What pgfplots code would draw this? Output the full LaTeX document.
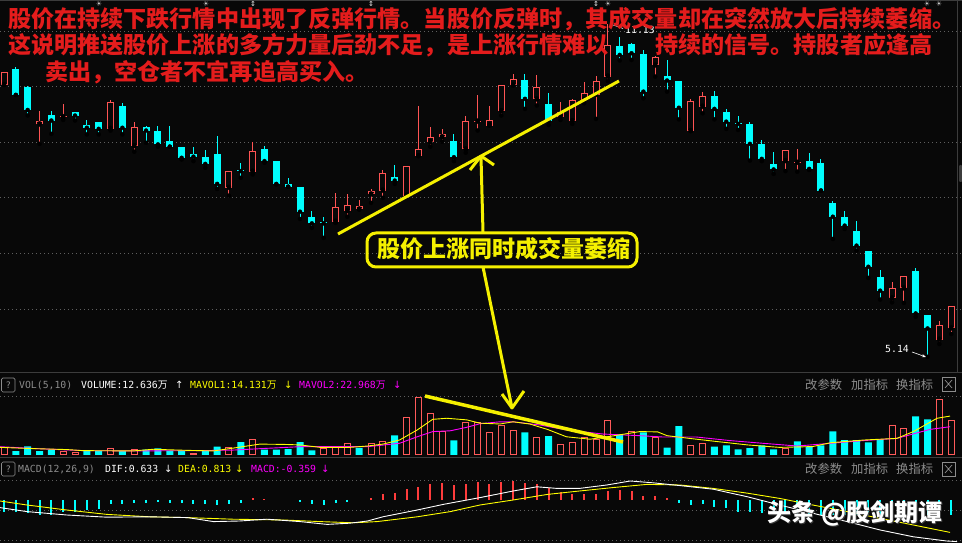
\documentclass[border=0pt]{standalone}
\usepackage{fontspec}
\usepackage{pgfplots}
\usepackage{pgfplotstable}
\pgfplotsset{compat=1.18}
\usetikzlibrary{arrows.meta}
\newfontfamily\cjk{Noto Sans CJK SC}
\newfontfamily\mono{DejaVu Sans Mono}
\newfontfamily\dv{DejaVu Sans}
\definecolor{bg}{RGB}{8,8,8}
\definecolor{kred}{RGB}{255,84,84}
\definecolor{vred}{RGB}{255,90,90}
\definecolor{mred}{RGB}{255,60,60}
\definecolor{kcyan}{RGB}{0,255,255}
\definecolor{ann}{RGB}{245,240,0}
\definecolor{txtred}{RGB}{228,28,28}
\definecolor{gridc}{RGB}{95,95,95}
\definecolor{bord}{RGB}{60,60,60}
\definecolor{mag}{RGB}{255,0,255}
\definecolor{ylw}{RGB}{255,255,0}
\definecolor{hgray}{RGB}{140,140,140}

% up (red, hollow) candles: index open high low close
\pgfplotstableread{
i o h l c
0 10.03 10.26 10.03 10.26
3 9.32 9.56 8.97 9.39
5 9.45 9.69 9.40 9.47
9 9.24 9.76 9.21 9.72
11 8.93 9.36 8.83 9.27
19 8.18 8.49 8.04 8.49
21 8.47 9.00 8.42 8.84
28 7.57 8.09 7.55 7.83
29 7.76 8.07 7.66 7.87
30 7.79 7.96 7.79 7.85
31 8.06 8.16 7.91 8.12
32 8.13 8.50 8.00 8.44
34 8.04 8.58 8.04 8.58
35 8.75 9.65 8.75 8.88
36 9.00 9.28 8.92 9.09
37 9.09 9.24 9.01 9.14
39 8.87 9.48 8.81 9.38
40 9.37 9.84 9.21 9.39
41 9.30 9.65 9.30 9.40
42 9.56 10.02 9.48 10.02
43 10.02 10.23 10.02 10.13
45 9.77 10.21 9.66 9.99
47 9.46 9.73 9.40 9.54
48 9.38 9.77 9.33 9.76
49 9.76 10.09 9.70 9.88
50 9.85 10.19 9.42 10.10
51 10.18 11.13 10.10 10.75
55 10.38 10.55 10.18 10.54
58 9.20 9.77 9.20 9.74
59 9.64 9.90 9.52 9.83
66 8.66 8.86 8.48 8.86
67 8.63 8.88 8.47 8.65
75 6.19 6.49 6.12 6.38
76 6.37 6.60 6.11 6.59
79 5.45 5.79 5.37 5.71
80 5.65 6.05 5.55 6.05
}\upK

% down (cyan, filled) candles
\pgfplotstableread{
i o h l c
1 10.32 10.35 9.85 9.85
2 9.99 10.01 9.48 9.58
4 9.49 9.56 9.15 9.39
6 9.54 9.55 9.39 9.48
7 9.31 9.40 9.14 9.26
8 9.36 9.37 9.14 9.24
10 9.65 9.70 9.14 9.26
12 9.27 9.29 8.99 9.21
13 9.20 9.29 8.92 8.96
14 9.02 9.29 8.92 8.92
15 8.91 8.91 8.69 8.72
16 8.79 8.91 8.66 8.74
17 8.73 8.86 8.54 8.61
18 8.79 9.11 8.16 8.25
20 8.50 8.63 8.36 8.48
22 8.88 8.93 8.63 8.66
23 8.66 8.66 8.24 8.25
24 8.25 8.36 8.20 8.20
25 8.19 8.19 7.62 7.75
26 7.65 7.76 7.46 7.54
27 7.56 7.65 7.28 7.54
33 8.37 8.59 8.25 8.31
38 9.02 9.15 8.66 8.73
44 10.12 10.23 9.60 9.78
46 9.69 9.88 9.31 9.38
52 10.73 10.90 10.47 10.57
53 10.76 10.78 10.48 10.60
54 10.59 10.66 9.79 9.91
56 10.19 10.48 9.91 10.11
57 10.10 10.10 9.41 9.62
60 9.83 9.92 9.41 9.60
61 9.54 9.59 9.24 9.37
62 9.35 9.48 9.22 9.33
63 9.33 9.37 8.67 8.97
64 8.97 9.04 8.66 8.70
65 8.61 8.82 8.43 8.51
68 8.66 8.80 8.50 8.52
69 8.62 8.69 8.13 8.13
70 7.91 7.94 7.26 7.66
71 7.65 7.76 7.44 7.50
72 7.40 7.58 7.05 7.14
73 7.04 7.04 6.56 6.76
74 6.58 6.70 6.17 6.33
77 6.68 6.74 5.86 5.92
78 5.89 5.89 5.14 5.65
}\dnK

\pgfplotsset{
  panel/.style={scale only axis, anchor=south west, width=962pt,
    xmin=-0.338, xmax=80.91, axis line style={draw=none}, xtick=\empty,
    yticklabels={}, major tick style={draw=none}, ymajorgrids,
    grid style={gridc, line width=0.9pt, dash pattern=on 1pt off 3pt}},
  ebar/.style 2 args={only marks, mark=none, error bars/.cd, y dir=plus, y explicit,
    error mark=none, error bar style={draw=#1, line width=#2}}
}

\begin{document}
\begin{tikzpicture}
\path[use as bounding box] (0pt,0pt) rectangle (962pt,543pt);
\fill[bg] (0pt,0pt) rectangle (962pt,543pt);

% ---------------- price panel ----------------
\begin{axis}[panel, at={(0pt,171pt)}, height=372pt, ymin=4.867, ymax=11.5576, ytick={6,7,8,9,10,11}]
\addplot[ebar={kred}{1pt}] table[x=i, y=l, y error expr=\thisrow{h}-\thisrow{l}] {\upK};
\addplot[ebar={kcyan}{1pt}] table[x=i, y=l, y error expr=\thisrow{h}-\thisrow{l}] {\dnK};
\addplot[ebar={kred}{7pt}] table[x=i, y=o, y error expr=\thisrow{c}-\thisrow{o}] {\upK};
\addplot[ebar={bg}{5pt}] table[x=i, y expr=\thisrow{o}+0.018, y error expr={max(\thisrow{c}-\thisrow{o}-0.036,0)}] {\upK};
\addplot[ebar={kcyan}{7pt}] table[x=i, y=c, y error expr=\thisrow{o}-\thisrow{c}] {\dnK};
\end{axis}

% ---------------- volume panel ----------------
\begin{axis}[panel, at={(0pt,88pt)}, height=83pt, ymin=0, ymax=30.51, ytick={21.7}]
\addplot[ybar, bar shift=0pt, bar width=7pt, fill=kcyan, draw=none] coordinates {
(1,1.4)(2,3.2)(3,1.4)(4,2.0)(7,1.4)(8,1.4)(10,1.4)(12,2.0)(13,2.4)(14,1.6)(15,1.6)(17,1.4)(18,3.1)
(20,4.7)(22,2.0)(23,2.0)(24,2.2)(25,4.7)(26,1.7)(30,2.6)(33,7.2)(38,5.4)(44,8.3)(46,6.9)(52,7.6)
(54,8.3)(56,2.7)(57,10.6)(60,3.1)(61,3.5)(62,2.1)(63,2.5)(64,3.5)(65,2.1)(67,5.0)(68,3.1)(69,3.5)
(70,8.7)(71,5.5)(72,5.5)(73,4.6)(74,5.7)(77,14.2)(78,13.1)};
\addplot[ybar, bar shift=0pt, bar width=6pt, fill=bg, draw=vred, line width=1pt] coordinates {
(0,2.7)(5,1.4)(6,1.0)(9,2.4)(11,2.0)(16,0.6)(19,2.9)(21,5.7)(27,2.4)(28,2.6)(29,4.2)(31,4.2)(32,4.9)
(34,13.8)(35,21.3)(36,15.4)(37,8.5)(39,11.9)(40,12.1)(41,8.3)(42,10.8)(43,9.1)(45,6.4)(47,3.8)
(48,4.7)(49,6.4)(50,5.7)(51,12.8)(53,8.7)(55,6.4)(58,3.5)(59,4.2)(66,2.5)(75,10.8)(76,9.7)(79,20.4)(80,12.6)};
\addplot[mag, line width=0.9pt, mark=none] coordinates {
(-0.34,3.05)(2.45,2.4)(6.7,1.6)(10.9,1.5)(16.6,1.6)(19.3,1.8)(22.2,2.45)(25,3.05)(27.8,3.05)(30.7,3.05)
(33.4,4.3)(34.9,6.7)(36.2,8.6)(37.7,8.9)(39.1,10.2)(40.2,11.5)(41.9,12.2)(43.0,12.2)(45.3,11.0)(47.5,9.2)
(50.6,7.7)(53.7,7.1)(55.7,6.6)(58.5,6.6)(61.3,5.3)(64.1,4.3)(67.0,3.3)(69.8,4.3)(72.6,5.3)(75.4,6.1)
(78.2,9.4)(79.9,10.4)};
\addplot[ylw, line width=0.9pt, mark=none] coordinates {
(-0.34,2.8)(2.45,2.35)(5.3,2.0)(6.7,1.6)(10.9,1.5)(12.6,2.1)(15.5,1.7)(17.7,1.5)(19.3,2.5)(21.6,4.0)
(23.6,3.9)(25,3.7)(26.7,2.8)(29.2,2.8)(30.7,3.3)(32.0,4.0)(33.4,5.5)(34.9,9.2)(36.2,13.1)(37.4,13.5)
(39.1,12.9)(40.2,11.7)(41.9,11.4)(43.0,12.2)(44.4,11.4)(45.9,9.4)(47.5,6.7)(49.5,5.8)(51.4,7.0)
(53.7,8.6)(55.2,8.5)(56.0,7.1)(57.9,6.1)(59.9,5.1)(62.8,3.7)(65.5,2.8)(68.3,3.1)(69.8,4.5)(72.6,5.5)
(75.4,6.1)(76.8,8.6)(78.8,13.5)(79.9,14.3)};
\end{axis}

% ---------------- MACD panel ----------------
\begin{axis}[panel, at={(0pt,0pt)}, height=86pt, ymin=-1.075, ymax=1.075, ytick={-1,-0.25,0.4925}]
\addplot[ycomb, draw=kcyan, line width=2pt, mark=none] coordinates {
(0,-0.29)(1,-0.31)(2,-0.33)(3,-0.375)(4,-0.375)(5,-0.31)(6,-0.29)(7,-0.25)(8,-0.225)(9,-0.11)(10,-0.11)
(11,-0.083)(12,-0.067)(13,-0.058)(14,-0.083)(15,-0.083)(16,-0.11)(17,-0.11)(18,-0.125)(19,-0.11)(20,-0.067)
(25,-0.058)(26,-0.11)(27,-0.125)(28,-0.083)(29,-0.04)(57,-0.083)(58,-0.125)(59,-0.11)(60,-0.167)
(61,-0.21)(62,-0.29)(63,-0.3)(64,-0.33)(65,-0.35)(66,-0.37)(67,-0.37)(68,-0.38)(69,-0.38)
(70,-0.38)(71,-0.38)(72,-0.38)(73,-0.38)(74,-0.38)(75,-0.36)(76,-0.35)(77,-0.37)(78,-0.38)(79,-0.38)(80,-0.38)};
\addplot[ycomb, draw=mred, line width=2pt, mark=none] coordinates {
(21,0.04)(22,0.017)(31,0.058)(32,0.14)(33,0.18)(34,0.27)(35,0.32)(36,0.40)(37,0.42)(38,0.375)(39,0.40)
(40,0.46)(41,0.39)(42,0.46)(43,0.48)(44,0.42)(45,0.39)(46,0.29)(47,0.19)(48,0.14)(49,0.14)(50,0.14)
(51,0.23)(52,0.25)(53,0.225)(54,0.11)(55,0.11)(56,0.04)};
\addplot[ylw, line width=0.9pt, mark=none] coordinates {
(-0.34,-0.025)(1.94,-0.125)(5.3,-0.25)(8.7,-0.36)(12.3,-0.42)(15.5,-0.44)(19.3,-0.48)(23.6,-0.5)
(26.7,-0.54)(29.5,-0.57)(31.5,-0.54)(34.9,-0.42)(37.7,-0.29)(40.2,-0.125)(43.0,0)(45.9,0.14)
(48.6,0.225)(51.4,0.31)(54.3,0.39)(57.1,0.375)(59.9,0.29)(62.8,0.17)(65.5,0.04)(68.3,-0.125)
(71.2,-0.29)(74.0,-0.46)(76.8,-0.625)(79.9,-0.81)};
\addplot[white, line width=0.9pt, mark=none] coordinates {
(-0.34,-0.19)(1.94,-0.29)(5.3,-0.375)(8.7,-0.43)(12.3,-0.42)(15.5,-0.44)(17.7,-0.54)(19.9,-0.525)
(22.2,-0.48)(25.0,-0.54)(27.3,-0.61)(29.2,-0.58)(30.7,-0.525)(32.0,-0.42)(34.9,-0.25)(37.1,-0.11)
(40.2,0.06)(43.0,0.225)(45.0,0.33)(46.7,0.29)(48.6,0.29)(50.9,0.375)(52.9,0.475)(54.8,0.43)
(57.1,0.36)(59.9,0.27)(62.8,0.08)(65.5,-0.125)(68.3,-0.33)(71.2,-0.54)(74.0,-0.75)(76.8,-0.92)
(79.6,-1.025)(80.5,-1.04)};
\end{axis}

\begin{scope}[x=1pt,y=1pt]
% borders
\draw[bord, line width=1pt] (0,542) -- (962,542);
\draw[bord, line width=1pt] (957,543) -- (957,171);
\draw[bord, line width=1pt] (0,170.5) -- (962,170.5);
\draw[bord, line width=1pt] (0,85.5) -- (962,85.5);
\fill[bord, rounded corners=1pt] (959,361) rectangle (962,378);

% headers
\foreach \yy/\bl in {151/154.7, 67/70.7}{
  \draw[hgray, line width=0.7pt, rounded corners=1.5pt] (1.5,\yy) rectangle (15,\yy+14);
  \node[anchor=base, inner sep=0, text=hgray, font=\mono\fontsize{9}{10}\selectfont] at (8.3,\bl) {?};
}
\node[anchor=base west, inner sep=0, text=hgray, font=\mono\fontsize{9.8}{11}\selectfont] at (19,154.7) {VOL(5,10)};
\node[anchor=base west, inner sep=0, text=white, font=\mono\fontsize{9.8}{11}\selectfont] at (81,154.7) {VOLUME:12.636{\cjk 万}};
\node[anchor=base west, inner sep=0, text=white, font=\dv\fontsize{10}{11}\selectfont] at (175,154.7) {↑};
\node[anchor=base west, inner sep=0, text=ylw, font=\mono\fontsize{9.8}{11}\selectfont] at (190,154.7) {MAVOL1:14.131{\cjk 万}};
\node[anchor=base west, inner sep=0, text=ylw, font=\dv\fontsize{10}{11}\selectfont] at (284,154.7) {↓};
\node[anchor=base west, inner sep=0, text=mag, font=\mono\fontsize{9.8}{11}\selectfont] at (299,154.7) {MAVOL2:22.968{\cjk 万}};
\node[anchor=base west, inner sep=0, text=mag, font=\dv\fontsize{10}{11}\selectfont] at (393,154.7) {↓};

\node[anchor=base west, inner sep=0, text=hgray, font=\mono\fontsize{9.8}{11}\selectfont] at (18,70.7) {MACD(12,26,9)};
\node[anchor=base west, inner sep=0, text=white, font=\mono\fontsize{9.8}{11}\selectfont] at (105,70.7) {DIF:0.633};
\node[anchor=base west, inner sep=0, text=white, font=\dv\fontsize{10}{11}\selectfont] at (164,70.7) {↓};
\node[anchor=base west, inner sep=0, text=ylw, font=\mono\fontsize{9.8}{11}\selectfont] at (178,70.7) {DEA:0.813};
\node[anchor=base west, inner sep=0, text=ylw, font=\dv\fontsize{10}{11}\selectfont] at (235,70.7) {↓};
\node[anchor=base west, inner sep=0, text=mag, font=\mono\fontsize{9.8}{11}\selectfont] at (251,70.7) {MACD:-0.359};
\node[anchor=base west, inner sep=0, text=mag, font=\dv\fontsize{10}{11}\selectfont] at (321,70.7) {↓};

\foreach \bl/\yy in {153.5/152, 69/67}{
  \node[anchor=base west, inner sep=0, text=hgray, font=\cjk\fontsize{12.3}{13}\selectfont] at (805,\bl) {改参数};
  \node[anchor=base west, inner sep=0, text=hgray, font=\cjk\fontsize{12.3}{13}\selectfont] at (851,\bl) {加指标};
  \node[anchor=base west, inner sep=0, text=hgray, font=\cjk\fontsize{12.3}{13}\selectfont] at (896,\bl) {换指标};
  \draw[hgray, line width=0.7pt] (942,\yy) rectangle (955,\yy+14);
  \draw[hgray, line width=0.7pt] (945,\yy+3) -- (952,\yy+11) (945,\yy+11) -- (952,\yy+3);
}

% top markers
\foreach \xx in {99,206,608,927,939}{
  \node[text={rgb,255:red,200;green,200;blue,200}, inner sep=0, font=\dv\fontsize{7}{7}\selectfont] at (\xx,539.3) {☀};
}
\foreach \xx in {253,371,596}{
  \node[text={rgb,255:red,200;green,200;blue,200}, inner sep=0, font=\dv\bfseries\fontsize{7}{7}\selectfont] at (\xx,539.5) {↕};
}

% price labels
\draw[white, line width=0.6pt] (610,519) -- (616,517) -- (623,514.5);
\node[anchor=base west, inner sep=0, text=white, font=\mono\fontsize{9.8}{11}\selectfont] at (625,509) {11.13};
\node[anchor=base west, inner sep=0, text=white, font=\mono\fontsize{9.8}{11}\selectfont] at (885,190) {5.14};
\draw[white, line width=0.6pt, -{Stealth[length=4pt,width=3pt]}] (912,191) -- (926,186);

% red explanatory text
\begin{scope}[every node/.style={anchor=base west, inner sep=0, text=txtred, font=\cjk\bfseries\fontsize{23.1}{26}\selectfont}]
\node at (8,515) {股价在持续下跌行情中出现了反弹行情。当股价反弹时，其成交量却在突然放大后持续萎缩。};
\node at (8,489.5) {这说明推送股价上涨的多方力量后劲不足，是上涨行情难以};
\node at (655,489.5) {持续的信号。持股者应逢高};
\node at (45,462) {卖出，空仓者不宜再追高买入。};
\end{scope}

% yellow annotations
\draw[ann, line width=3pt] (338,309) -- (619,462);
\draw[ann, line width=3pt, line join=round] (483,311) -- (481,386);
\draw[ann, line width=3pt, line join=round] (470,373) -- (481,387) -- (494,378);
\draw[ann, line width=3pt, rounded corners=9pt] (367,276) rectangle (637,310);
\node[anchor=base west, inner sep=0, text=ann, font=\cjk\bfseries\fontsize{23}{26}\selectfont] at (377,285.5) {股价上涨同时成交量萎缩};
\draw[ann, line width=3pt] (483,276) -- (512,135);
\draw[ann, line width=3pt, line join=round] (502,149) -- (512,135) -- (524,152);
\draw[ann, line width=3.5pt] (425,147) -- (623,101);

% watermark
\begin{scope}[every node/.style={anchor=base west, inner sep=0, font=\cjk\bfseries\fontsize{24}{26}\selectfont}]
\node[text={rgb,255:red,60;green,60;blue,60}] at (768.5,20.5) {头条};
\node[text={rgb,255:red,60;green,60;blue,60}] at (822.5,20.5) {@股剑期谭};
\node[text=white] at (767,21.5) {头条};
\node[text=white] at (821,21.5) {@股剑期谭};
\end{scope}
\end{scope}
\end{tikzpicture}
\end{document}
